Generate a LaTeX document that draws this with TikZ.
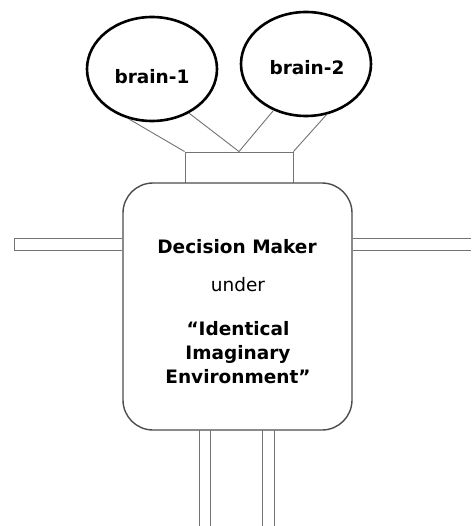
\documentclass[tikz,border=0pt]{standalone}
\usepackage{fontspec}
\setmainfont{DejaVu Sans}
\usetikzlibrary{shapes.geometric,calc}

\tikzset{
  brain/.style={draw=black,line width=2.6pt,ellipse,minimum width=130pt,minimum height=104pt,inner sep=0pt},
  frame/.style={draw=black!55,line width=0.9pt},
  label/.style={align=center,inner sep=0pt,font=\fontsize{18.5}{24}\selectfont},
  boldlabel/.style={label,font=\fontsize{18.5}{24}\selectfont\bfseries}
}

\begin{document}
\begin{tikzpicture}[x=1pt,y=-1pt]
\useasboundingbox (0,0) rectangle (471,526);
% the two brains
\node[brain] (b1) at (152,69) {};
\node[brain] (b2) at (306,64) {};
\node[boldlabel] (t1) at (152,77) {brain-1};
\node[boldlabel] (t2) at (307,68) {brain-2};
% hub and decision maker
\node[frame,rectangle,minimum width=108pt,minimum height=33pt,inner sep=0pt] (hub) at (239,168.5) {};
\node[frame,line width=1.4pt,draw=black!70,fill=white,rectangle,rounded corners=30pt,minimum width=229pt,minimum height=247pt,inner sep=0pt] (dm) at (237.5,306.5) {};
\node[boldlabel] (title) at (237,247) {Decision Maker};
\node[label] (under) at (238,285) {under};
\node[boldlabel] (env) at (238,353) {“Identical\\Imaginary\\Environment”};
% links from brains to hub
\draw[frame] (b1.-115) -- (hub.north west);
\draw[frame] (b1.-50) -- (hub.north);
\draw[frame] (b2.-125) -- (hub.north);
\draw[frame] (b2.-68) -- (hub.north east);
% side bars
\coordinate (lt) at (dm.west |- 0,238);
\coordinate (lb) at (dm.west |- 0,250);
\coordinate (rt) at (dm.east |- 0,238);
\coordinate (rb) at (dm.east |- 0,250);
\draw[frame] (lt) -- (14,238) -- (14,250) -- (lb);
\draw[frame] (rt) -- (471,238);
\draw[frame] (rb) -- (471,250);
% legs
\foreach \x in {199,210,262,274}
  \draw[frame] (\x,430) -- (\x,526);
\end{tikzpicture}
\end{document}
